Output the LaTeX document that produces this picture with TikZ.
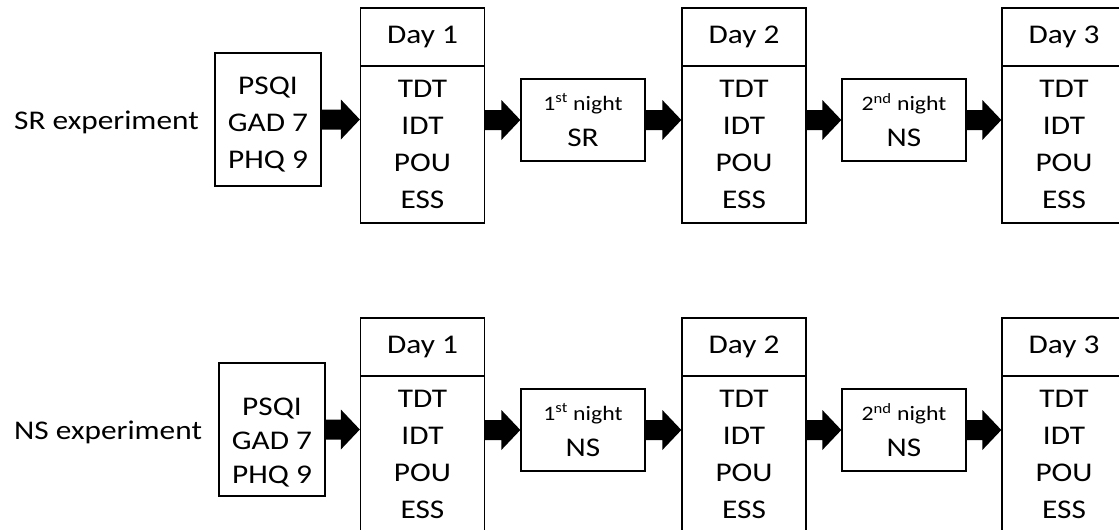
\documentclass[tikz,border=0pt]{standalone}
\usepackage{fontspec}
\setmainfont{Carlito}[FakeStretch=1.16]
\usetikzlibrary{calc}
\tikzset{
  box/.style={draw, line width=1.3pt, inner sep=0pt, align=center},
  big/.style={font=\fontsize{27}{37}\selectfont},
  small/.style={font=\fontsize{20.5}{36}\selectfont},
  dayhead/.style={box, big, minimum width=124pt, minimum height=58pt},
  daybody/.style={box, big, minimum width=124pt, minimum height=157pt},
  nightbox/.style={box, small, minimum width=124pt, minimum height=82pt},
  survbox/.style={box, minimum width=106pt, minimum height=133pt},
  txt/.style={inner sep=0pt, align=center},
}
% #1 start coordinate, #2 target node
\newcommand\barrow[2]{%
  \coordinate (tmpE) at (#2.west |- #1);
  \fill ($(#1)+(0,-10)$) -- ($(tmpE)+(-19,-10)$) -- ($(tmpE)+(-19,-20)$) -- (tmpE)
     -- ($(tmpE)+(-19,20)$) -- ($(tmpE)+(-19,10)$) -- ($(#1)+(0,10)$) -- cycle;}
% #1 prefix, #2 y offset, #3 label, #4 first-night word, #5 survey cx,
% #6 survey text shift, #7 survey line spacing
\newcommand\exprow[7]{%
  \node[txt, big, anchor=base west] (#1lab) at (14,{129+#2}) {#3};
  \node[survbox] (#1s) at (#5,{119.5+#2}) {};
  \node[txt, font=\fontsize{27}{#7}\selectfont] (#1st) at ($(#1s.center)+(0,#6)$) {PSQI\\GAD 7\\PHQ 9};
  \node[dayhead] (#1d1h) at (422.5,{37+#2}) {Day 1};
  \node[daybody] (#1d1b) at (422.5,{144.5+#2}) {TDT\\IDT\\POU\\ESS};
  \node[nightbox] (#1n1) at (583,{120+#2}) {1\textsuperscript{st} night\\{\fontsize{27}{36}\selectfont #4}};
  \node[dayhead] (#1d2h) at (744,{37+#2}) {Day 2};
  \node[daybody] (#1d2b) at (744,{144.5+#2}) {TDT\\IDT\\POU\\ESS};
  \node[nightbox] (#1n2) at (904,{120+#2}) {2\textsuperscript{nd} night\\{\fontsize{27}{36}\selectfont NS}};
  \node[dayhead] (#1d3h) at (1064,{37+#2}) {Day 3};
  \node[daybody] (#1d3b) at (1064,{144.5+#2}) {TDT\\IDT\\POU\\ESS};
  \barrow{#1s.east}{#1d1b}
  \barrow{#1d1b.east |- #1n1.west}{#1n1}
  \barrow{#1n1.east}{#1d2b}
  \barrow{#1d2b.east |- #1n2.west}{#1n2}
  \barrow{#1n2.east}{#1d3b}
}
\begin{document}
\begin{tikzpicture}[x=1pt, y=-1pt]
  \path[use as bounding box, fill=white] (0,0) rectangle (1119,530);
  \clip (0,0) rectangle (1119,530);
  \exprow{a}{0}{SR experiment}{SR}{268}{5}{37}
  \exprow{b}{310}{NS experiment}{NS}{272}{13}{34}
\end{tikzpicture}
\end{document}
